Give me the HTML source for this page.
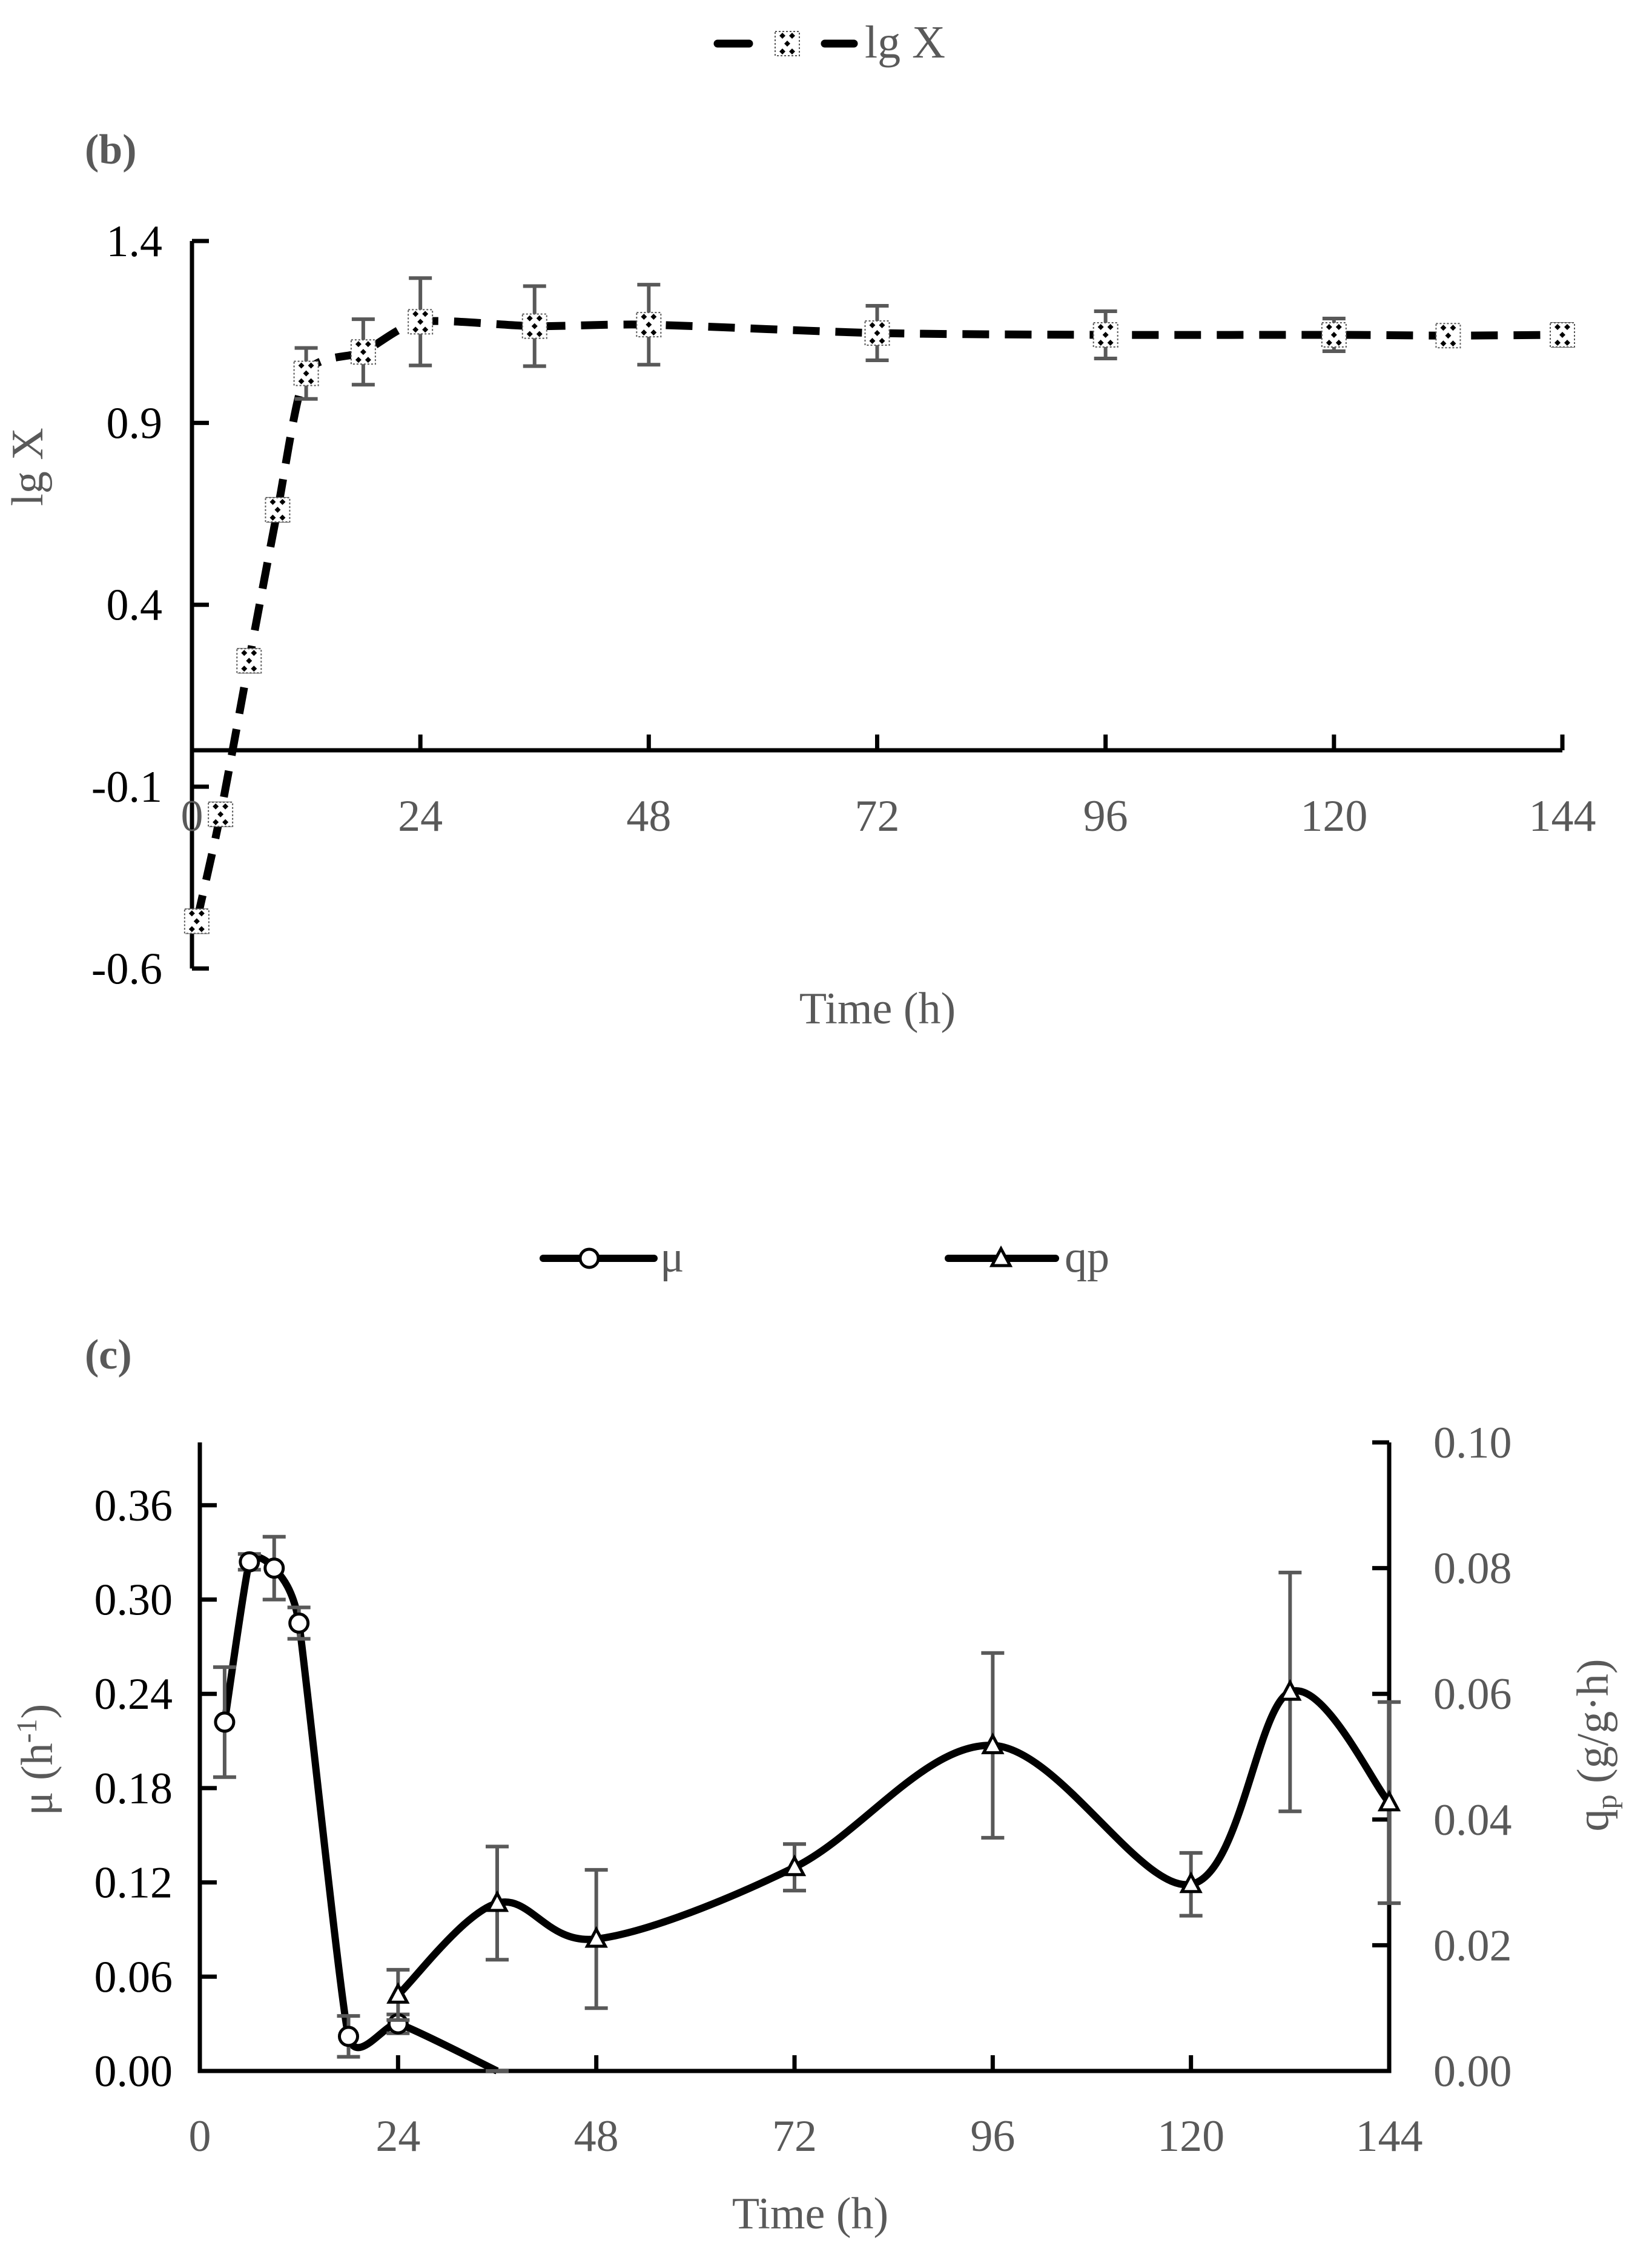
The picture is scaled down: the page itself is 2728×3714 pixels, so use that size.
<!DOCTYPE html>
<html><head><meta charset="utf-8"><style>
html,body{margin:0;padding:0;background:#fff;}
svg{display:block;font-family:"Liberation Serif",serif;}
</style></head><body>
<svg id="fig" width="2728" height="3714" viewBox="0 0 2728 3714" xmlns="http://www.w3.org/2000/svg">
<defs>
<g id="lgmark">
<rect x="-20" y="-20" width="40" height="40" fill="#fff" stroke="#595959" stroke-width="2" stroke-dasharray="3 3"/>
<path d="M-13 -13l5 -5 5 5 -5 5z M3 -13l5 -5 5 5 -5 5z M-5 0l5 -5 5 5 -5 5z M-13 13l5 -5 5 5 -5 5z M3 13l5 -5 5 5 -5 5z" fill="#000"/>
</g>
</defs>
<g id="chartb"></g>
<g id="chartc"></g>
</svg>
<script>
// ---- Chart (b) data ----
const bTimes = [0.5, 3, 6, 9, 12, 18, 24, 36, 48, 72, 96, 120, 132, 144];
const bLgX = [-0.47, -0.176, 0.246, 0.661, 1.036, 1.095, 1.178, 1.166, 1.17, 1.147, 1.142, 1.142, 1.14, 1.142];
const bErr = [0.03, 0.03, 0.03, 0.03, 0.07, 0.09, 0.12, 0.11, 0.11, 0.075, 0.065, 0.045, 0.028, 0.03];
const bYTicks = [1.4, 0.9, 0.4, -0.1, -0.6];
const bXTicks = [0, 24, 48, 72, 96, 120, 144];
// ---- Chart (c) data ----
const muTimes = [3, 6, 9, 12, 18, 24, 36];
const muVals = [0.222, 0.324, 0.320, 0.285, 0.022, 0.030, 0.0];
const muErr = [0.035, 0.005, 0.02, 0.01, 0.013, 0.006, 0.0];
const qpTimes = [24, 36, 48, 72, 96, 120, 132, 144];
const qpVals = [0.0121, 0.0267, 0.021, 0.0324, 0.0518, 0.0297, 0.0603, 0.0427];
const qpErr = [0.004, 0.009, 0.011, 0.0037, 0.0147, 0.005, 0.019, 0.016];
const cLeftTicks = [0, 0.06, 0.12, 0.18, 0.24, 0.30, 0.36];
const cLeftLabels = ["0.00", "0.06", "0.12", "0.18", "0.24", "0.30", "0.36"];
const cRightTicks = [0, 0.02, 0.04, 0.06, 0.08, 0.10];
const cRightLabels = ["0.00", "0.02", "0.04", "0.06", "0.08", "0.10"];
const cXTicks = [0, 24, 48, 72, 96, 120, 144];

const NS = "http://www.w3.org/2000/svg";
function mk(parent, tag, attrs, text) {
  const e = document.createElementNS(NS, tag);
  for (const k in attrs) e.setAttribute(k, attrs[k]);
  if (text !== undefined) e.textContent = text;
  parent.appendChild(e);
  return e;
}
function smooth(pts, t) {
  let d = "M" + pts[0][0] + " " + pts[0][1];
  for (let i = 0; i < pts.length - 1; i++) {
    const p0 = pts[Math.max(0, i - 1)], p1 = pts[i], p2 = pts[i + 1], p3 = pts[Math.min(pts.length - 1, i + 2)];
    const c1 = [p1[0] + (p2[0] - p0[0]) * t, p1[1] + (p2[1] - p0[1]) * t];
    const c2 = [p2[0] - (p3[0] - p1[0]) * t, p2[1] - (p3[1] - p1[1]) * t];
    d += " C" + c1[0] + " " + c1[1] + " " + c2[0] + " " + c2[1] + " " + p2[0] + " " + p2[1];
  }
  return d;
}
function errbar(g, x, y1, y2) {
  const e = mk(g, "path", {d: `M${x} ${y1}V${y2}M${x-19} ${y1}H${x+19}M${x-19} ${y2}H${x+19}`, stroke: "#595959", "stroke-width": 6, fill: "none"});
  
  
}

// ================= Chart (b) =================
(function(){
  const g = document.getElementById("chartb");
  const X0 = 317, X1 = 2580, Y0 = 1239;
  const xs = t => X0 + (X1 - X0) * t / 144;
  const ys = v => Y0 - v * 600.7;
  const lg = mk(g, "g", {});
  
  
  mk(lg, "path", {d: "M1185 72H1237M1362 72H1410", stroke: "#000", "stroke-width": 13, "stroke-linecap": "round"});
  mk(lg, "use", {href: "#lgmark", x: 1300, y: 72});
  mk(lg, "text", {x: 1428, y: 95, "font-size": 76, fill: "#595959"}, "lg X");
  const pl = mk(g, "text", {x: 140, y: 270, "font-size": 70, "font-weight": "bold", fill: "#595959"}, "(b)");
  
  
  const ax = mk(g, "path", {d: `M${X0} ${ys(1.4)}V${ys(-0.6)}M${X0} ${Y0}H${X1}`, stroke: "#000", "stroke-width": 7, fill: "none"});
  
  
  bYTicks.forEach(v => {
    mk(g, "path", {d: `M${X0} ${ys(v)}H${X0+28}`, stroke: "#000", "stroke-width": 7});
    const t = mk(g, "text", {x: 268, y: ys(v) + 25, "font-size": 74, "text-anchor": "end", fill: "#000"}, v.toFixed(1));
    
    
  });
  bXTicks.forEach(v => {
    mk(g, "path", {d: `M${xs(v)} ${Y0}V${Y0-26}`, stroke: "#000", "stroke-width": 7});
    const t = mk(g, "text", {x: xs(v), y: 1372, "font-size": 74, "text-anchor": "middle", fill: "#595959"}, String(v));
    
    
  });
  const yt = mk(g, "text", {x: 0, y: 0, "font-size": 74, "text-anchor": "middle", fill: "#595959", transform: "translate(70 771) rotate(-90)"}, "lg X");
  
  
  const xt = mk(g, "text", {x: 1449, y: 1690, "font-size": 74, "text-anchor": "middle", fill: "#595959"}, "Time (h)");
  
  
  const pts = bTimes.map((t, i) => [xs(t), ys(bLgX[i])]);
  const line = mk(g, "path", {d: smooth(pts, 0.12), stroke: "#000", "stroke-width": 13, fill: "none", "stroke-dasharray": "44 26"});
  
  
  bTimes.forEach((t, i) => errbar(g, xs(t), ys(bLgX[i] + bErr[i]), ys(bLgX[i] - bErr[i])));
  bTimes.forEach((t, i) => {
    const m = mk(g, "use", {href: "#lgmark", x: xs(t), y: ys(bLgX[i])});
    
    
  });
})();

// ================= Chart (c) =================
(function(){
  const g = document.getElementById("chartc");
  const X0 = 330, X1 = 2294, Y0 = 3420, YT = 2382;
  const xs = t => X0 + (X1 - X0) * t / 144;
  const yl = v => Y0 - v * (Y0 - YT) / 0.40;
  const yr = v => Y0 - v * (Y0 - YT) / 0.10;
  const l1 = mk(g, "g", {});
  
  
  mk(l1, "path", {d: "M897 2078H1080", stroke: "#000", "stroke-width": 12, "stroke-linecap": "round"});
  mk(l1, "circle", {cx: 973, cy: 2078, r: 15, fill: "#fff", stroke: "#000", "stroke-width": 5});
  mk(l1, "text", {x: 1090, y: 2100, "font-size": 74, fill: "#595959"}, "μ");
  const l2 = mk(g, "g", {});
  
  
  mk(l2, "path", {d: "M1566 2078H1743", stroke: "#000", "stroke-width": 12, "stroke-linecap": "round"});
  mk(l2, "path", {d: "M1653 2062L1668 2090H1638Z", fill: "#fff", stroke: "#000", "stroke-width": 5});
  mk(l2, "text", {x: 1758, y: 2100, "font-size": 74, fill: "#595959"}, "qp");
  const pl = mk(g, "text", {x: 140, y: 2260, "font-size": 70, "font-weight": "bold", fill: "#595959"}, "(c)");
  
  
  const ax = mk(g, "path", {d: `M${X0} ${YT}V${Y0}H${X1}V${YT}`, stroke: "#000", "stroke-width": 7, fill: "none"});
  
  
  cLeftTicks.forEach((v, i) => {
    mk(g, "path", {d: `M${X0} ${yl(v)}H${X0+28}`, stroke: "#000", "stroke-width": 7});
    const t = mk(g, "text", {x: 285, y: yl(v) + 25, "font-size": 74, "text-anchor": "end", fill: "#000"}, cLeftLabels[i]);
    
    
  });
  cRightTicks.forEach((v, i) => {
    mk(g, "path", {d: `M${X1} ${yr(v)}H${X1-28}`, stroke: "#000", "stroke-width": 7});
    const t = mk(g, "text", {x: 2367, y: yr(v) + 25, "font-size": 74, fill: "#595959"}, cRightLabels[i]);
    
    
  });
  cXTicks.forEach(v => {
    mk(g, "path", {d: `M${xs(v)} ${Y0}V${Y0-26}`, stroke: "#000", "stroke-width": 7});
    const t = mk(g, "text", {x: xs(v), y: 3552, "font-size": 74, "text-anchor": "middle", fill: "#595959"}, String(v));
    
    
  });
  const yt = mk(g, "text", {x: 0, y: 0, "font-size": 74, "text-anchor": "middle", fill: "#595959", transform: "translate(86 2906) rotate(-90)"});
  
  
  yt.innerHTML = 'μ (h<tspan font-size="48" dy="-26">-1</tspan><tspan dy="26">)</tspan>';
  const rt = mk(g, "text", {x: 0, y: 0, "font-size": 74, "text-anchor": "middle", fill: "#595959", transform: "translate(2655 2882) rotate(-90)"});
  
  
  rt.innerHTML = 'q<tspan font-size="48" dy="14">p</tspan><tspan dy="-14"> (g/g·h)</tspan>';
  const xt = mk(g, "text", {x: 1338, y: 3680, "font-size": 74, "text-anchor": "middle", fill: "#595959"}, "Time (h)");
  
  
  const mpts = muTimes.map((t, i) => [xs(t), yl(muVals[i])]);
  const ml = mk(g, "path", {d: smooth(mpts, 0.08), stroke: "#000", "stroke-width": 12, fill: "none"});
  
  
  muTimes.forEach((t, i) => errbar(g, xs(t), yl(muVals[i] + muErr[i]), yl(Math.max(0, muVals[i] - muErr[i]))));
  muTimes.forEach((t, i) => {
    if (muVals[i] <= 0) return;
    const c = mk(g, "circle", {cx: xs(t), cy: yl(muVals[i]), r: 15, fill: "#fff", stroke: "#000", "stroke-width": 5});
    
    
  });
  const qpts = qpTimes.map((t, i) => [xs(t), yr(qpVals[i])]);
  const ql = mk(g, "path", {d: smooth(qpts, 1/6), stroke: "#000", "stroke-width": 12, fill: "none"});
  
  
  qpTimes.forEach((t, i) => errbar(g, xs(t), yr(qpVals[i] + qpErr[i]), yr(qpVals[i] - qpErr[i])));
  qpTimes.forEach((t, i) => {
    const x = xs(t), y = yr(qpVals[i]);
    const p = mk(g, "path", {d: `M${x} ${y-16}L${x+15} ${y+12}H${x-15}Z`, fill: "#fff", stroke: "#000", "stroke-width": 5});
    
    
  });
})();
</script>
</body></html>
